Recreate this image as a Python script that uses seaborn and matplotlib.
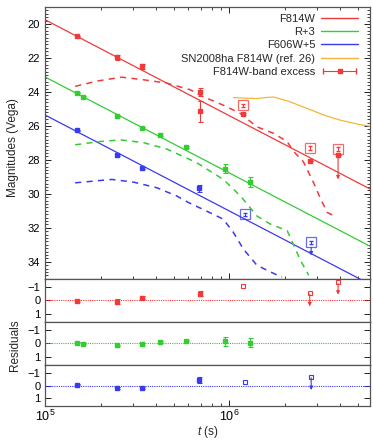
import numpy as np
import pandas as pd
import matplotlib
matplotlib.use("Agg")
import matplotlib.pyplot as plt
import seaborn as sns
from matplotlib.ticker import MultipleLocator, LogLocator, NullFormatter, FixedLocator
from matplotlib.container import ErrorbarContainer
from matplotlib.legend_handler import HandlerErrorbar

sns.set_style("ticks")
plt.rcParams["font.family"] = ["Liberation Sans", "DejaVu Sans"]
plt.rcParams["mathtext.fontset"] = "custom"
plt.rcParams["mathtext.rm"] = "Liberation Sans"
plt.rcParams["mathtext.it"] = "Liberation Sans:italic"
plt.rcParams["axes.unicode_minus"] = True

# ---------------- data ----------------
# power-law fits: mag = m0 + slope*log10(t/1e5)
fit_m0 = {"F814W": 19.75, "R+3": 23.12, "F606W+5": 25.36}
fit_slope = 5.65

# F814W observations
red_t = [1.49e5, 2.46e5, 3.36e5, 6.9e5]
red_m = [20.73, 21.97, 22.48, 24.0]
red_e = [0.04, 0.17, 0.14, 0.25]
red_sq_t = [1.18e6, 2.73e6, 3.89e6]
red_sq_m = [24.78, 27.30, 27.37]
red_sq_e = [0.10, 0.10, 0.10]
# F814W-band excess
exc_t = [6.9e5, 1.18e6, 2.73e6, 3.89e6]
exc_m = [25.13, 25.30, 28.09, 27.70]
exc_e = [0.62, 0.05, 0.0, 0.0]
exc_lim_end = [None, None, 29.15, 28.60]

# R+3 observations
grn_t = [1.49e5, 1.61e5, 2.47e5, 3.36e5, 4.18e5, 5.84e5, 9.46e5, 1.29e6]
grn_m = [24.04, 24.29, 25.42, 26.12, 26.55, 27.25, 28.53, 29.29]
grn_e = [0.04, 0.04, 0.05, 0.05, 0.05, 0.06, 0.26, 0.30]

# F606W+5 observations
blu_t = [1.49e5, 2.46e5, 3.36e5, 6.8e5]
blu_m = [26.26, 27.74, 28.48, 29.68]
blu_e = [0.04, 0.06, 0.07, 0.20]
blu_sq_t = [1.22e6, 2.78e6]
blu_sq_m = [31.20, 32.85]
blu_sq_e = [0.10, 0.10]
blu_lim_end = [None, 33.63]

# model (dashed) curves
red_dash_t = [1.455e5, 1.91e5, 2.6e5, 3.41e5, 4.57e5, 6.14e5, 6.95e5, 9.27e5, 1.15e6,
              1.41e6, 1.73e6, 2.06e6, 2.23e6, 2.52e6, 2.86e6, 3.13e6, 3.4e6, 3.72e6]
red_dash_m = [23.67, 23.36, 23.13, 23.28, 23.48, 23.87, 24.2, 24.78, 25.27,
              26.05, 26.43, 26.92, 27.5, 28.1, 29.33, 30.3, 31.1, 31.3]
grn_dash_t = [1.455e5, 1.99e5, 2.56e5, 3.41e5, 4.57e5, 6.14e5, 6.61e5, 9.27e5, 1.15e6,
              1.41e6, 1.67e6, 2.06e6, 2.24e6, 2.43e6, 2.64e6, 2.69e6]
grn_dash_m = [27.11, 26.92, 26.82, 26.98, 27.36, 27.99, 28.15, 29.15, 30.13,
              31.3, 31.78, 32.17, 33.04, 33.92, 34.6, 34.8]
blu_dash_t = [1.455e5, 1.83e5, 2.3e5, 3.02e5, 4.04e5, 5.19e5, 6.0e5, 7.31e5, 9.27e5,
              1.05e6, 1.19e6, 1.41e6, 1.67e6, 1.93e6]
blu_dash_m = [29.35, 29.25, 29.15, 29.31, 29.64, 30.13, 30.51, 30.95, 31.49,
              32.26, 33.24, 34.2, 34.6, 34.9]

# SN2008ha F814W (ref. 26)
sn_t = [1.05e6, 1.25e6, 1.41e6, 1.6e6, 1.74e6, 2.1e6, 2.64e6, 3.26e6, 4.0e6, 4.94e6, 5.8e6]
sn_m = [24.33, 24.37, 24.39, 24.32, 24.30, 24.55, 24.97, 25.36, 25.66, 25.89, 26.02]

# residuals
red_res = [0.05, 0.10, -0.20, -0.50]
red_res_e = [0.04, 0.20, 0.10, 0.20]
red_sq_res = [-1.07, -0.55, -1.36]
red_sq_res_end = [None, 0.45, -0.42]
grn_res = [-0.05, 0.03, 0.13, 0.05, -0.10, -0.17, -0.17, -0.05]
grn_res_e = [0.04, 0.04, 0.05, 0.05, 0.05, 0.06, 0.33, 0.35]
blu_res = [-0.05, 0.20, 0.20, -0.45]
blu_res_e = [0.04, 0.06, 0.07, 0.25]
blu_sq_res = [-0.26, -0.70]
blu_sq_res_end = [None, 0.35]

RED, GRN, BLU, ORA = "#f03a3a", "#33cc33", "#3a3aee", "#f5b53c"
XMIN, XMAX = 1e5, 5.8e6

# ---------------- figure ----------------
fig = plt.figure(figsize=(3.73, 4.40), dpi=100)
gs = fig.add_gridspec(4, 1, height_ratios=[271, 43, 43, 41], hspace=0,
                      left=0.121, right=0.992, top=0.984, bottom=0.077)
ax = fig.add_subplot(gs[0])
rax = [fig.add_subplot(gs[i], sharex=ax) for i in (1, 2, 3)]

tgrid = np.logspace(5, np.log10(XMAX), 50)
fit_df = pd.concat([pd.DataFrame({"t": tgrid,
                                  "mag": fit_m0[k] + fit_slope * np.log10(tgrid / 1e5),
                                  "band": k}) for k in fit_m0])
pal = {"F814W": RED, "R+3": GRN, "F606W+5": BLU}
sns.lineplot(data=fit_df, x="t", y="mag", hue="band", palette=pal, lw=0.9, ax=ax,
             legend=False, sort=False, estimator=None)

dash_df = pd.concat([
    pd.DataFrame({"t": red_dash_t, "mag": red_dash_m, "band": "F814W"}),
    pd.DataFrame({"t": grn_dash_t, "mag": grn_dash_m, "band": "R+3"}),
    pd.DataFrame({"t": blu_dash_t, "mag": blu_dash_m, "band": "F606W+5"}),
])
sns.lineplot(data=dash_df, x="t", y="mag", hue="band", palette=pal, lw=1.1, ax=ax,
             legend=False, sort=False, estimator=None, dashes=False)
for ln in ax.lines[3:6]:
    ln.set_dashes([4, 3.5])

sns.lineplot(x=sn_t, y=sn_m, color=ORA, lw=0.9, ax=ax, legend=False)

ekw = dict(fmt="s", ms=2.6, capsize=1.8, elinewidth=0.8, capthick=0.8)
ax.errorbar(red_t, red_m, yerr=red_e, color=RED, **ekw)
ax.errorbar(grn_t, grn_m, yerr=grn_e, color=GRN, **ekw)
ax.errorbar(blu_t, blu_m, yerr=blu_e, color=BLU, **ekw)
ax.errorbar(exc_t, exc_m, yerr=exc_e, color=RED, **ekw)

sqkw = dict(marker="s", ms=7, mfc="none", mew=0.9, ls="none", alpha=0.75)
ax.plot(red_sq_t, red_sq_m, color=RED, **sqkw)
ax.errorbar(red_sq_t, red_sq_m, yerr=red_sq_e, fmt="none", color=RED, capsize=1.5, elinewidth=0.7)
ax.plot(blu_sq_t, blu_sq_m, color=BLU, **sqkw)
ax.errorbar(blu_sq_t, blu_sq_m, yerr=blu_sq_e, fmt="none", color=BLU, capsize=1.5, elinewidth=0.7)


def arrow(a, x, y0, y1, c):
    a.annotate("", xy=(x, y1), xytext=(x, y0),
               arrowprops=dict(arrowstyle="-|>", color=c, lw=0.8, mutation_scale=5,
                               shrinkA=0, shrinkB=0))


for t, m0, e in zip(red_sq_t, red_sq_m, exc_lim_end):
    if e is not None:
        arrow(ax, t, m0 + 0.3, e, RED)
for t, m0, e in zip(blu_sq_t, blu_sq_m, blu_lim_end):
    if e is not None:
        arrow(ax, t, m0 + 0.3, e, BLU)

ax.set_xscale("log")
ax.set_xlim(XMIN, XMAX)
ax.set_ylim(35, 19)
ax.yaxis.set_major_locator(FixedLocator([20, 22, 24, 26, 28, 30, 32, 34]))
ax.yaxis.set_minor_locator(MultipleLocator(0.2))
ax.set_xlabel("")
ax.set_ylabel("")
ax.tick_params(labelbottom=False)

# legend
h_lines = [plt.Line2D([], [], color=c, lw=1.0) for c in (RED, GRN, BLU, ORA)]
h_exc = ax.errorbar([np.nan], [np.nan], xerr=[1.0], fmt="s", ms=2.6, color=RED,
                    capsize=2.5, elinewidth=0.8)
ax.legend(h_lines + [h_exc],
          ["F814W", "R+3", "F606W+5", "SN2008ha F814W (ref. 26)", "F814W-band excess"],
          loc="upper right", frameon=False, markerfirst=False, fontsize=8,
          handlelength=3.4, labelspacing=0.3, borderaxespad=0.2, handletextpad=0.5,
          bbox_to_anchor=(0.985, 1.0),
          handler_map={ErrorbarContainer: HandlerErrorbar(xerr_size=1.45)})

# residual panels
res_sets = [
    (RED, red_t, red_res, red_res_e, red_sq_t, red_sq_res, red_sq_res_end),
    (GRN, grn_t, grn_res, grn_res_e, [], [], []),
    (BLU, blu_t, blu_res, blu_res_e, blu_sq_t, blu_sq_res, blu_sq_res_end),
]
for a, (c, t, r, re, st, sr, se) in zip(rax, res_sets):
    a.axhline(0, color=c, lw=0.8, ls=(0, (1, 1)))
    a.errorbar(t, r, yerr=re, color=c, **ekw)
    if st:
        a.plot(st, sr, color=c, marker="s", ms=3.5, mfc="none", mew=0.8, ls="none")
        for tt, y0, y1 in zip(st, sr, se):
            if y1 is not None:
                arrow(a, tt, y0 + 0.1, y1, c)
    a.set_ylim(1.6, -1.6)
    a.yaxis.set_major_locator(FixedLocator([-1, 0, 1]))
    a.set_ylabel("")
    a.set_xlabel("")

for a in [ax] + rax:
    a.tick_params(which="both", direction="in", top=True, right=True, labelsize=8,
                  colors="#222222", labelcolor="black")
    a.tick_params(which="major", length=4, width=0.7)
    a.tick_params(which="minor", length=2, width=0.6)
    for s in a.spines.values():
        s.set_linewidth(0.9)
        s.set_color("#555555")
for a in rax:
    a.tick_params(axis="x", which="both", top=False, bottom=False, labelbottom=False)
rax[-1].tick_params(axis="x", which="both", bottom=True, labelbottom=True)
ax.tick_params(axis="x", which="both", top=True, bottom=True)
ax.xaxis.set_major_locator(LogLocator(base=10, numticks=10))
ax.xaxis.set_minor_locator(LogLocator(base=10, subs=np.arange(2, 10), numticks=20))
ax.xaxis.set_minor_formatter(NullFormatter())
rax[-1].tick_params(axis="x", labelsize=9, pad=2)

fig.text(0.035, 0.665, "Magnitudes (Vega)", rotation=90, ha="center", va="center", fontsize=8.5)
fig.text(0.04, 0.216, "Residuals", rotation=90, ha="center", va="center", fontsize=8.5)
rax[-1].set_xlabel("$t$ (s)", fontsize=8.5, labelpad=0)

fig.savefig("out.png", dpi=100)
